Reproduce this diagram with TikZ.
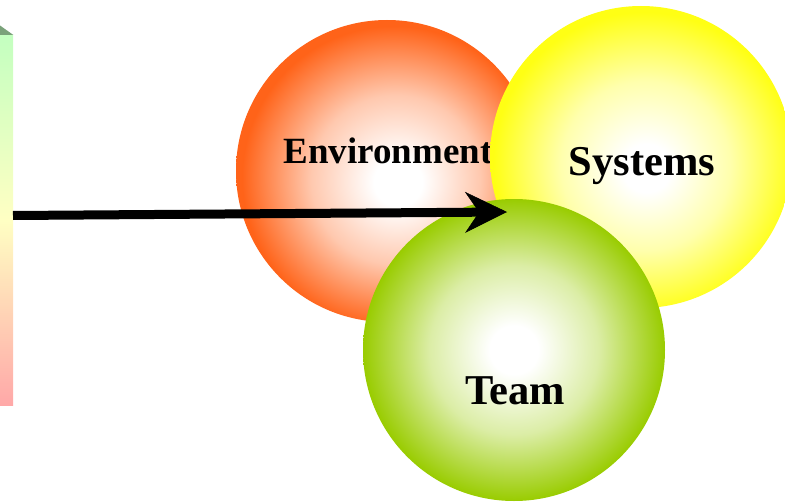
\documentclass[tikz,border=0pt]{standalone}
\usepackage{fontspec}
\setmainfont{Liberation Serif}
\usetikzlibrary{arrows.meta}
\definecolor{envorange}{RGB}{255,99,25}
\definecolor{sysyellow}{RGB}{255,255,20}
\definecolor{teamgreen}{RGB}{153,204,0}
\definecolor{bartop}{RGB}{195,255,192}
\definecolor{barmid}{RGB}{255,255,195}
\definecolor{barbottom}{RGB}{255,168,168}
\definecolor{barcap}{RGB}{122,162,122}
\pgfdeclareradialshading{envball}{\pgfpoint{2bp}{-2bp}}{color(0bp)=(white); color(4bp)=(white); color(14bp)=(envorange!35!white); color(25bp)=(envorange); color(50bp)=(envorange)}
\pgfdeclareradialshading{sysball}{\pgfpoint{1bp}{-2bp}}{color(0bp)=(white); color(4bp)=(white); color(14bp)=(sysyellow!35!white); color(25bp)=(sysyellow); color(50bp)=(sysyellow)}
\pgfdeclareradialshading{teamball}{\pgfpoint{0bp}{0bp}}{color(0bp)=(white); color(4bp)=(white); color(14bp)=(teamgreen!35!white); color(25bp)=(teamgreen); color(50bp)=(teamgreen)}
\tikzset{
  sphere/.style={circle, minimum size=302pt, inner sep=0pt, shade},
  ballname/.style={font=\bfseries\fontsize{42.5}{45}\selectfont, anchor=base},
}
\begin{document}
\begin{tikzpicture}[x=1pt, y=-1pt]
\useasboundingbox (0,0) rectangle (785,503);
\node[rectangle, minimum width=13pt, minimum height=370pt, inner sep=0pt, anchor=north west, top color=bartop, bottom color=barbottom, middle color=barmid] (bar) at (0,35) {};
\fill[barcap] (0,25.5) -- (bar.north east) -- (bar.north west) -- cycle;
\node[sphere, shading=envball] (env) at (387,171) {};
\node[ballname, font=\bfseries\fontsize{37}{40}\selectfont] (envtext) at (388,163.5) {Environment};
\node[sphere, shading=sysball] (sys) at (641,157) {};
\node[ballname] (systext) at (642,175) {Systems};
\node[sphere, shading=teamball] (team) at (514,350) {};
\node[ballname] (teamtext) at (515,404.5) {Team};
\coordinate (tail) at (13,215.5);
\coordinate (tip) at (507,212);
\draw[line width=9pt, -{Stealth[length=42pt, width=41pt, inset=14pt, line width=0.5pt]}] (tail) -- (tip);
\end{tikzpicture}
\end{document}
